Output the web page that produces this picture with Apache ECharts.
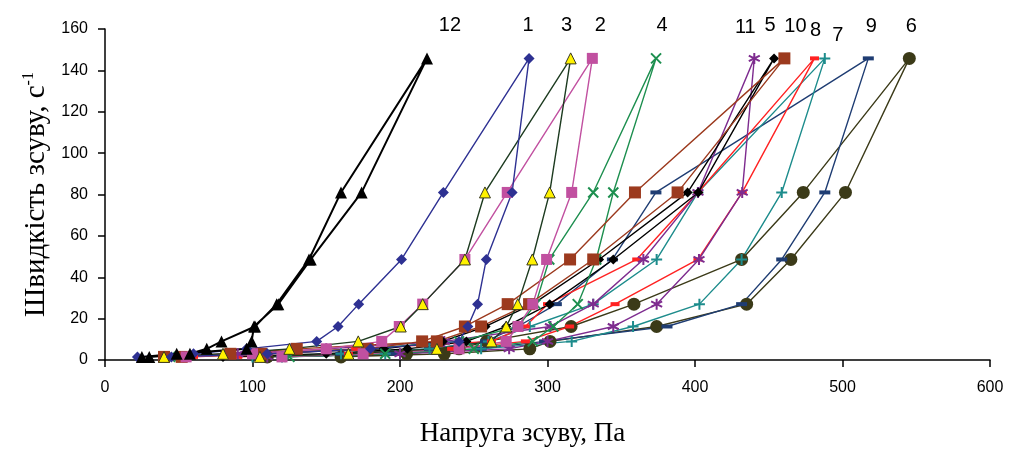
<!DOCTYPE html>
<html>
<head>
<meta charset="utf-8">
<script src="https://cdn.jsdelivr.net/npm/echarts@6/dist/echarts.min.js"></script>
<style>
  html, body { margin: 0; padding: 0; background: #fff; }
  #chart { width: 1013px; height: 452px; }
</style>
</head>
<body>
<div id="chart"></div>
<script>
// shear rates of the rheometer, s^-1
const rates = [1.5, 3, 5.4, 9, 16.2, 27, 48.6, 81, 145.8]

// shear stress, Pa: rising branch (by rates) and falling branch (81 back to 1.5)
const up1 = [22, 60, 96, 143.5, 158, 172, 201, 229.4, 287.5]
const down1 = [276, 258.5, 252.6, 246, 240, 180, 110, 45]
const up2 = [55, 100, 150, 187.6, 199.5, 215.4, 244, 272.7, 330.4]
const down2 = [316.4, 299.4, 290, 280, 272, 240, 175, 120]
const up3 = [40, 80, 125, 171.7, 200.5, 215.4, 244, 257.6, 315.7]
const down3 = [301.5, 289.7, 279.8, 272, 262, 225, 165, 105]
const up4 = [50, 105, 175, 240, 280, 292, 301.2, 331, 373.6]
const down4 = [344.6, 333, 320.5, 304, 290, 250, 190, 125]
const up5 = [45, 100, 189, 229, 258, 290, 335, 395, 453.6]
const down5 = [402.2, 344.6, 301.5, 272, 245, 205, 150, 80]
const up6 = [110, 204.5, 240, 258.7, 316, 358.6, 431.6, 473.4, 545.3]
const down6 = [502, 465, 435, 374, 301.7, 288, 230, 160]
const up7 = [100, 160, 220, 260, 288, 331, 374, 402, 488]
const down7 = [458.8, 431.6, 403, 358, 316.4, 255, 190, 120]
const up8 = [60, 110, 170, 262, 285, 300, 360.5, 402, 481]
const down8 = [432, 402, 345.8, 315, 285, 235, 165, 90]
const up9 = [100, 160, 220, 258, 280, 306, 344, 373.5, 517.5]
const down9 = [488, 458.8, 431.6, 381, 298, 255, 195, 120]
const up10 = [52, 106, 178, 215, 244, 273, 315.3, 359.3, 460.6]
const down10 = [388.2, 331, 287.5, 255, 225, 130, 85, 40]
const up11 = [40, 90, 150, 230, 302, 331, 365, 402, 440.2]
const down11 = [432, 402.7, 374, 344.6, 300, 274, 200, 110]
const up12 = [30, 57.6, 69, 79, 101.7, 116.4, 138.3, 160, 218.3]
const down12 = [174, 139.5, 117.5, 101, 99.4, 96, 48.6, 25]

const X_PATH = 'path://M0,0L10,10M0,10L10,0'
const PLUS_PATH = 'path://M5,0L5,10M0,5L10,5'
const STAR_PATH = 'path://M5,0L5,10M0,2.5L10,7.5M0,7.5L10,2.5'

function loop(up, down) {
  const rising = up.map((x, i) => [x, rates[i]])
  const falling = down.map((x, i) => [x, rates[rates.length - 2 - i]])
  return rising.concat(falling)
}

// look of each sample; label offset is where the number sits over the top point
const styles = {
  '1': { line: '#2E3192', fill: '#2E3192', symbol: 'diamond', size: 11, off: [-1, -33] },
  '2': { line: '#C150A0', fill: '#C150A0', symbol: 'rect', size: 11, off: [8, -33] },
  '3': { line: '#1D3B20', fill: '#FFF200', border: '#3A3A20', symbol: 'triangle', size: 11, off: [-4, -33] },
  '4': { line: '#1D8F4F', stroke: '#1D8F4F', symbol: X_PATH, size: 10, off: [6, -33] },
  '5': { line: '#000000', fill: '#000000', symbol: 'diamond', size: 10, off: [-4, -33] },
  '6': { line: '#3B3A18', fill: '#3B3A18', symbol: 'circle', size: 13, off: [2, -32] },
  '7': { line: '#1D8C8C', stroke: '#1D8C8C', symbol: PLUS_PATH, size: 11, off: [13, -23] },
  '8': { line: '#FF2222', fill: '#FF2222', symbol: 'rect', size: [9, 4], off: [1, -28] },
  '9': { line: '#1F3D73', fill: '#1F3D73', symbol: 'rect', size: [11, 4], off: [3, -32] },
  '10': { line: '#9C3A1E', fill: '#9C3A1E', symbol: 'rect', size: 12, off: [11, -32] },
  '11': { line: '#7E2C8F', stroke: '#7E2C8F', symbol: STAR_PATH, size: 11, off: [-9, -31] },
  '12': { line: '#000000', fill: '#000000', symbol: 'triangle', size: 12, off: [23, -33], width: 2 }
}

const loops = {
  '1': loop(up1, down1), '2': loop(up2, down2), '3': loop(up3, down3),
  '4': loop(up4, down4), '5': loop(up5, down5), '6': loop(up6, down6),
  '7': loop(up7, down7), '8': loop(up8, down8), '9': loop(up9, down9),
  '10': loop(up10, down10), '11': loop(up11, down11), '12': loop(up12, down12)
}

// paint order: later ones lie on top
const drawOrder = ['6', '9', '7', '8', '11', '5', '4', '10', '2', '3', '1', '12']

const series = drawOrder.map((name) => {
  const st = styles[name]
  const topIndex = rates.length - 1
  const data = loops[name].map((pt, i) => {
    if (i !== topIndex) return pt
    return {
      value: pt,
      label: {
        show: true,
        formatter: name,
        position: 'inside',
        offset: st.off,
        color: '#000',
        fontFamily: 'Liberation Sans, Arial, sans-serif',
        fontSize: 20
      }
    }
  })
  const itemStyle = st.stroke
    ? { color: 'rgba(0,0,0,0)', borderColor: st.stroke, borderWidth: 2 }
    : { color: st.fill, borderColor: st.border || st.fill, borderWidth: st.border ? 1 : 0 }
  return {
    name: name,
    type: 'line',
    data: data,
    symbol: st.symbol,
    symbolSize: st.size,
    showAllSymbol: true,
    lineStyle: { color: st.line, width: st.width || 1.4 },
    itemStyle: itemStyle,
    emphasis: { disabled: true },
    animation: false
  }
})

const chart = echarts.init(document.getElementById('chart'), null, { renderer: 'canvas' })

chart.setOption({
  animation: false,
  backgroundColor: '#fff',
  grid: { left: 105, right: 23, top: 29, bottom: 83, containLabel: false },
  xAxis: {
    type: 'value',
    min: 0,
    max: 600,
    interval: 100,
    name: 'Напруга зсуву, Па',
    nameLocation: 'middle',
    nameGap: 60,
    nameTextStyle: {
      fontFamily: 'Liberation Serif, Times New Roman, serif',
      fontSize: 27,
      color: '#000',
      padding: [0, 50, 0, 0]
    },
    axisLine: { onZero: false, lineStyle: { color: '#000', width: 1.5 } },
    axisTick: { inside: false, length: 7, lineStyle: { color: '#000', width: 1.5 } },
    axisLabel: { color: '#000', fontSize: 16, fontFamily: 'Liberation Sans, Arial, sans-serif', margin: 20 },
    splitLine: { show: false }
  },
  yAxis: {
    type: 'value',
    min: 0,
    max: 160,
    interval: 20,
    name: '{a|Швидкість зсуву, с}{b|-1}',
    nameLocation: 'middle',
    nameGap: 52,
    nameTextStyle: {
      rich: {
        a: { fontFamily: 'Liberation Serif, Times New Roman, serif', fontSize: 29, color: '#000' },
        b: { fontFamily: 'Liberation Serif, Times New Roman, serif', fontSize: 16, color: '#000', padding: [0, 0, 14, 0] }
      }
    },
    axisLine: { show: true, lineStyle: { color: '#000', width: 1.5 } },
    axisTick: { show: true, inside: false, length: 7, lineStyle: { color: '#000', width: 1.5 } },
    axisLabel: { color: '#000', fontSize: 16, fontFamily: 'Liberation Sans, Arial, sans-serif', margin: 17 },
    splitLine: { show: false }
  },
  series: series
})
</script>
</body>
</html>
